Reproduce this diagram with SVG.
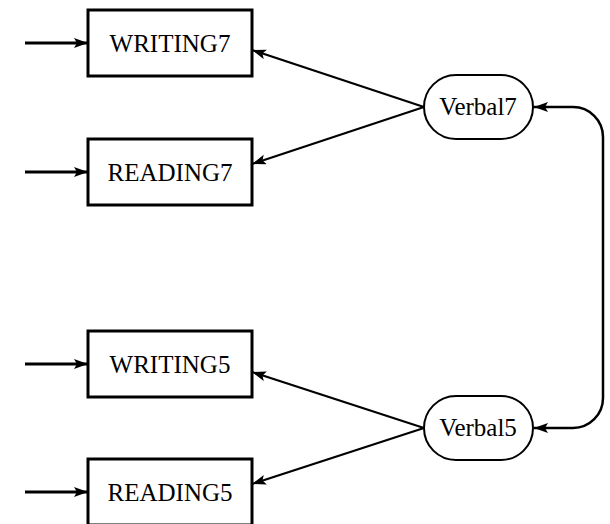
<svg xmlns="http://www.w3.org/2000/svg" width="610" height="524" viewBox="0 0 610 524">
<style>
.box{fill:#fff;stroke:#000;stroke-width:3}
.lat{fill:#fff;stroke:#000;stroke-width:2}
.lbl{font-family:"Liberation Serif","DejaVu Serif",serif;font-size:25px;fill:#000;text-anchor:middle}
.in{stroke:#000;stroke-width:3;fill:none;marker-end:url(#ah)}
.ld{stroke:#000;stroke-width:2;fill:none;marker-end:url(#ah)}
.cv{stroke:#000;stroke-width:2.5;fill:none;marker-start:url(#ahs);marker-end:url(#ah)}
</style>
<defs>
<marker id="ah" markerUnits="userSpaceOnUse" markerWidth="16" markerHeight="12" refX="14" refY="5" orient="auto">
<path d="M0,0 L14,5 L0,10 L3,5 Z" fill="#000"/>
</marker>
<marker id="ahs" markerUnits="userSpaceOnUse" markerWidth="16" markerHeight="12" refX="0" refY="5" orient="auto">
<path d="M14,0 L0,5 L14,10 L11,5 Z" fill="#000"/>
</marker>
</defs>
<g id="connectors">
<line class="in" x1="25" y1="43" x2="88" y2="43"/>
<line class="in" x1="25" y1="172" x2="88" y2="172"/>
<line class="in" x1="25" y1="364" x2="88" y2="364"/>
<line class="in" x1="25" y1="492" x2="88" y2="492"/>
<line class="ld" x1="424" y1="107" x2="252" y2="50"/>
<line class="ld" x1="424" y1="107" x2="252" y2="164"/>
<line class="ld" x1="424" y1="428" x2="252" y2="372"/>
<line class="ld" x1="424" y1="428" x2="252" y2="484"/>
<path class="cv" d="M534,107 H573 A30,30 0 0 1 603,137 V398 A30,30 0 0 1 573,428 H534"/>
</g>
<g id="WRITING7"><rect class="box" x="88" y="10" width="164" height="66"/><text class="lbl" x="170" y="52">WRITING7</text></g>
<g id="READING7"><rect class="box" x="88" y="139" width="164" height="66"/><text class="lbl" x="170" y="181">READING7</text></g>
<g id="WRITING5"><rect class="box" x="88" y="331" width="164" height="66"/><text class="lbl" x="170" y="373">WRITING5</text></g>
<g id="READING5"><rect class="box" x="88" y="459" width="164" height="66"/><text class="lbl" x="170" y="501">READING5</text></g>
<g id="Verbal7"><rect class="lat" x="424" y="75" width="109" height="64" rx="32" ry="32"/><text class="lbl" x="478" y="115">Verbal7</text></g>
<g id="Verbal5"><rect class="lat" x="424" y="396" width="109" height="64" rx="32" ry="32"/><text class="lbl" x="478" y="436">Verbal5</text></g>
</svg>
